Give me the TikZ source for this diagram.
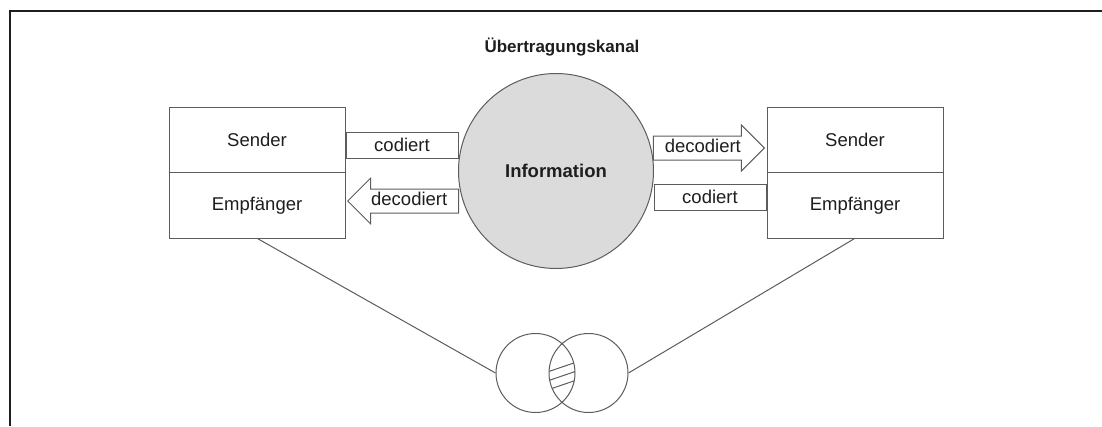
\documentclass[tikz,border=0pt]{standalone}
\usepackage{fontspec}
\setmainfont{Liberation Sans}
\usetikzlibrary{positioning,shapes.arrows}
\definecolor{linegray}{HTML}{5C5C5C}
\definecolor{infogray}{HTML}{DBDBDB}
\definecolor{textgray}{HTML}{1E1E1E}
\tikzset{
	txt/.style={text=textgray,font=\fontsize{18.5}{22}\selectfont},
	box/.style={txt,draw=linegray,line width=1pt,outer sep=0pt,inner sep=0pt,minimum width=176pt,minimum height=65.5pt},
	codebox/.style={txt,draw=linegray,line width=1pt,inner sep=0pt,minimum width=112pt,minimum height=26pt},
	decarrow/.style={txt,single arrow,draw=linegray,line width=1pt,minimum height=111pt,single arrow head extend=11pt,single arrow head indent=0pt,text height=13pt,text depth=4pt,inner ysep=3pt,inner xsep=0pt},
	venn/.style={circle,draw=linegray,line width=1pt,minimum size=79pt,inner sep=0pt}
}

\begin{document}
\begin{tikzpicture}[x=1pt,y=-1pt]
		\useasboundingbox (0,0) rectangle (1102,426);
		\draw[line width=2pt,textgray] (9.5,426) -- (9.5,11) -- (1102,11);

		\node[txt,font=\fontsize{17}{20}\selectfont\bfseries]		(kanal)	at (562,47)		{Übertragungskanal};
		\node[circle,draw=linegray,fill=infogray,line width=1pt,minimum size=195pt,txt,font=\fontsize{18.5}{22}\selectfont\bfseries]	(info)	at (556,171)	{Information};

		\node[box]								(sL)	at (257,140)	{Sender};
		\node[box,below=0pt of sL]				(eL)					{Empfänger};
		\node[box]								(sR)	at (855,140)	{Sender};
		\node[box,below=0pt of sR]				(eR)					{Empfänger};

		\node[codebox]							(cL)	at (402,145)	{codiert};
		\node[codebox]							(cR)	at (710,197)	{codiert};
		\node[decarrow,shape border rotate=180,anchor=tip]	(dL)	at (347,201)	{decodiert};
		\node[decarrow,anchor=tip]				(dR)	at (765,148)	{decodiert};

		\node[venn]								(vL)	at (535.5,373)	{};
		\node[venn]								(vR)	at (588.5,373)	{};

		\draw[linegray,line width=1pt]	(eL.south)	--	(vL.west);
		\draw[linegray,line width=1pt]	(eR.south)	--	(vR.east);

		\begin{scope}
			\clip (vL.center) circle (39.5);
			\clip (vR.center) circle (39.5);
			\foreach \y in {367,376,385}
				\draw[linegray,line width=1pt] (532,\y+10.2) -- (592,\y-10.2);
		\end{scope}
	\end{tikzpicture}
\end{document}
